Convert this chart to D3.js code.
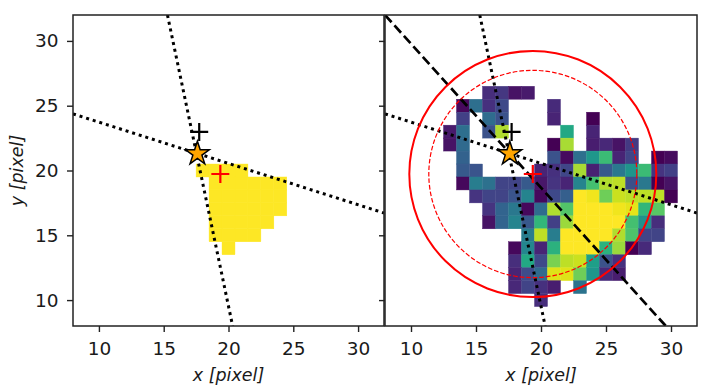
<!DOCTYPE html>
<html>
<head>
<meta charset="utf-8">
<script src="https://cdn.jsdelivr.net/npm/d3@7.9.0/dist/d3.min.js"></script>
<style>
  html, body { margin: 0; padding: 0; background: #fff; }
  svg { display: block; font-family: "DejaVu Sans", sans-serif; }
  .tick text { fill: #1a1a1a; font-size: 18.5px; }
  .tick line { stroke: #222; stroke-width: 1.4; }
</style>
</head>
<body>
<svg id="chart" width="717" height="390"></svg>
<script>
// axis limits and ticks (both panels share them)
const limits = [8, 32];
const tickValues = [10, 15, 20, 25, 30];

// left panel: binary mask, one entry per row -> [y, list of x]
const maskRows = [
    [20, [18, 19, 20, 21]],
    [19, [19, 20, 21, 22, 23, 24]],
    [18, [19, 20, 21, 22, 23, 24]],
    [17, [19, 20, 21, 22, 23, 24]],
    [16, [19, 20, 21, 22, 23]],
    [15, [19, 20, 21, 22]],
    [14, [20]]
];

// right panel: normalised flux per pixel -> [y, first x, values]  (null = empty)
const fluxRows = [
    [26, 16, [0.13, 0.16, 0.05, 0.07]],
    [25, 14, [0.02, 0.36, 0.14, 0.22, null, null, null, 0.12]],
    [24, 14, [0.19, null, 0.35, 0.25, null, null, null, 0.10, null, null, 0.0]],
    [23, 13, [0.07, 0.36, null, 0.25, 0.88, null, null, null, null, 0.60, null, 0.10]],
    [22, 13, [0.05, 0.34, null, null, null, null, null, null, 0.0, 0.87, null, 0.08, 0.11, 0.05, 0.17]],
    [21, 14, [0.31, null, null, null, null, null, null, 0.25, 0.03, 0.36, 0.53, 0.68, 0.10, 0.20, null, 0.0, 0.03]],
    [20, 14, [0.28, 0.26, null, null, null, null, 0.10, 0.14, 0.21, 0.87, 0.09, 0.28, 0.40, 0.52, 0.68, 0.15, 0.19]],
    [19, 14, [0.02, 0.42, 0.37, 0.20, 0.20, 0.28, 0.06, 0.15, 0.10, 0.45, 0.70, 0.88, 0.90, 0.24, 0.40, 0.0, 0.05]],
    [18, 15, [0.15, 0.20, 0.20, 0.26, 0.45, 0.02, 0.22, 0.30, 1.0, 0.98, 0.78, 0.92, 0.90, 0.90, 0.90, 0.0]],
    [17, 16, [0.15, 0.32, 0.40, 0.02, 0.35, 0.88, 0.73, 1.0, 1.0, 1.0, 0.98, 0.96, 0.66, 0.74]],
    [16, 16, [0.05, 0.32, 0.45, 0.27, 0.66, 0.19, 0.85, 1.0, 1.0, 1.0, 1.0, 0.70, 0.50, 0.13]],
    [15, 19, [0.42, 0.90, 0.42, 1.0, 1.0, 1.0, 1.0, 0.88, 0.72, 0.20, 0.20]],
    [14, 18, [0.02, 0.46, 0.10, 0.64, 1.0, 1.0, 1.0, 0.64, 0.85, 0.0, 0.12]],
    [13, 18, [0.13, 0.60, 0.22, 0.80, 0.90, 0.92, 0.56, 0.25, 0.14]],
    [12, 18, [0.10, 0.23, 0.34, 0.95, 0.95, 0.78, 0.53, 0.12, 0.08]],
    [11, 18, [0.11, 0.20, 0.14, 0.08, null, 0.38]],
    [10, 20, [0.13]]
];

// fitted lines, given by two end points [x, y]
const dottedLines = [
    [[15.29, 32], [20.32, 8]],
    [[8, 24.37], [32, 16.72]]
];
const dashedLine = [[8, 32], [29.6, 8]];

// markers and apertures
const starPos = [17.6, 21.3];
const blackCross = [17.74, 22.98];
const redCross = [19.37, 19.73];
const apertureRadii = [9.5, 8];

const svg = d3.select("#chart");
const plotTop = 15, plotBottom = 326;
const panels = [
    { x0: 73, x1: 384, showMask: true },
    { x0: 385, x1: 697, showMask: false }
];

const color = d3.scaleSequential(d3.interpolateViridis).domain([0, 1]);

function starPath(r) {
    let pts = [];
    for (let i = 0; i < 10; i++) {
        let rad = i % 2 === 0 ? r : r * 0.382;
        let a = -Math.PI / 2 + i * Math.PI / 5;
        pts.push([rad * Math.cos(a), rad * Math.sin(a)]);
    }
    return "M" + pts.map(p => p.join(",")).join("L") + "Z";
}

function drawCross(g, pos, x, y, col) {
    let cx = x(pos[0]), cy = y(pos[1]);
    g.append("path")
        .attr("d", `M${cx - 9},${cy}H${cx + 9}M${cx},${cy - 9}V${cy + 9}`)
        .attr("stroke", col)
        .attr("stroke-width", 2.2)
        .attr("fill", "none");
}

panels.forEach((p, idx) => {
    let x = d3.scaleLinear().domain(limits).range([p.x0, p.x1]);
    let y = d3.scaleLinear().domain(limits).range([plotBottom, plotTop]);

    let clipId = "clip" + idx;
    svg.append("clipPath").attr("id", clipId)
        .append("rect")
        .attr("x", p.x0).attr("y", plotTop)
        .attr("width", p.x1 - p.x0).attr("height", plotBottom - plotTop);

    let g = svg.append("g").attr("clip-path", `url(#${clipId})`);

    // pixel image
    if (p.showMask) {
        maskRows.forEach(([py, xs]) => {
            xs.forEach(px => {
                g.append("rect")
                    .attr("x", x(px - 0.5)).attr("y", y(py + 0.5))
                    .attr("width", x(px + 0.5) - x(px - 0.5))
                    .attr("height", y(py - 0.5) - y(py + 0.5))
                    .attr("fill", color(1))
                    .attr("stroke", color(1)).attr("stroke-width", 0.4);
            });
        });
    } else {
        fluxRows.forEach(([py, first, vals]) => {
            vals.forEach((v, i) => {
                if (v === null) return;
                let px = first + i;
                g.append("rect")
                    .attr("x", x(px - 0.5)).attr("y", y(py + 0.5))
                    .attr("width", x(px + 0.5) - x(px - 0.5))
                    .attr("height", y(py - 0.5) - y(py + 0.5))
                    .attr("fill", color(v))
                    .attr("stroke", color(v)).attr("stroke-width", 0.4);
            });
        });
    }

    let line = d3.line().x(d => x(d[0])).y(d => y(d[1]));

    dottedLines.forEach(l => {
        g.append("path")
            .attr("d", line(l))
            .attr("fill", "none")
            .attr("stroke", "#000")
            .attr("stroke-width", 3)
            .attr("stroke-dasharray", "3 3.9");
    });

    if (!p.showMask) {
        g.append("path")
            .attr("d", line(dashedLine))
            .attr("fill", "none")
            .attr("stroke", "#000")
            .attr("stroke-width", 2.7)
            .attr("stroke-dasharray", "9.8 4.3");

        // apertures around the centroid
        apertureRadii.forEach((r, i) => {
            g.append("ellipse")
                .attr("cx", x(redCross[0])).attr("cy", y(redCross[1]))
                .attr("rx", x(redCross[0] + r) - x(redCross[0]))
                .attr("ry", y(redCross[1] - r) - y(redCross[1]))
                .attr("fill", "none")
                .attr("stroke", "#ff0000")
                .attr("stroke-width", i === 0 ? 2 : 1.2)
                .attr("stroke-dasharray", i === 0 ? null : "4.6 2");
        });
    }

    drawCross(g, blackCross, x, y, "#000");

    g.append("path")
        .attr("d", starPath(12.5))
        .attr("transform", `translate(${x(starPos[0])},${y(starPos[1])})`)
        .attr("fill", "#ffa500")
        .attr("stroke", "#000")
        .attr("stroke-width", 1.5)
        .attr("stroke-linejoin", "miter");

    drawCross(g, redCross, x, y, "#ff0000");

    // axes
    let xAxis = svg.append("g")
        .attr("transform", `translate(0,${plotBottom})`)
        .call(d3.axisBottom(x).tickValues(tickValues).tickSize(6).tickPadding(10));
    xAxis.select(".domain").remove();

    let yAxis = svg.append("g")
        .attr("transform", `translate(${p.x0},0)`)
        .call(d3.axisLeft(y).tickValues(tickValues).tickSize(6).tickPadding(8.5)
            .tickFormat(idx === 0 ? d3.format("d") : () => ""));
    yAxis.select(".domain").remove();
    yAxis.selectAll("text").attr("font-family", "DejaVu Sans");
    xAxis.selectAll("text").attr("font-family", "DejaVu Sans");

    svg.append("rect")
        .attr("x", p.x0).attr("y", plotTop)
        .attr("width", p.x1 - p.x0).attr("height", plotBottom - plotTop)
        .attr("fill", "none")
        .attr("stroke", "#222")
        .attr("stroke-width", 1.5);

    svg.append("text")
        .attr("x", (p.x0 + p.x1) / 2)
        .attr("y", 380.5)
        .attr("text-anchor", "middle")
        .attr("font-size", "17.5px")
        .attr("font-style", "italic")
        .attr("fill", "#1a1a1a")
        .text("x [pixel]");
});

svg.append("text")
    .attr("transform", `translate(23,${(plotTop + plotBottom) / 2}) rotate(-90)`)
    .attr("text-anchor", "middle")
    .attr("font-size", "17.5px")
    .attr("font-style", "italic")
    .attr("fill", "#1a1a1a")
    .text("y [pixel]");
</script>
</body>
</html>
